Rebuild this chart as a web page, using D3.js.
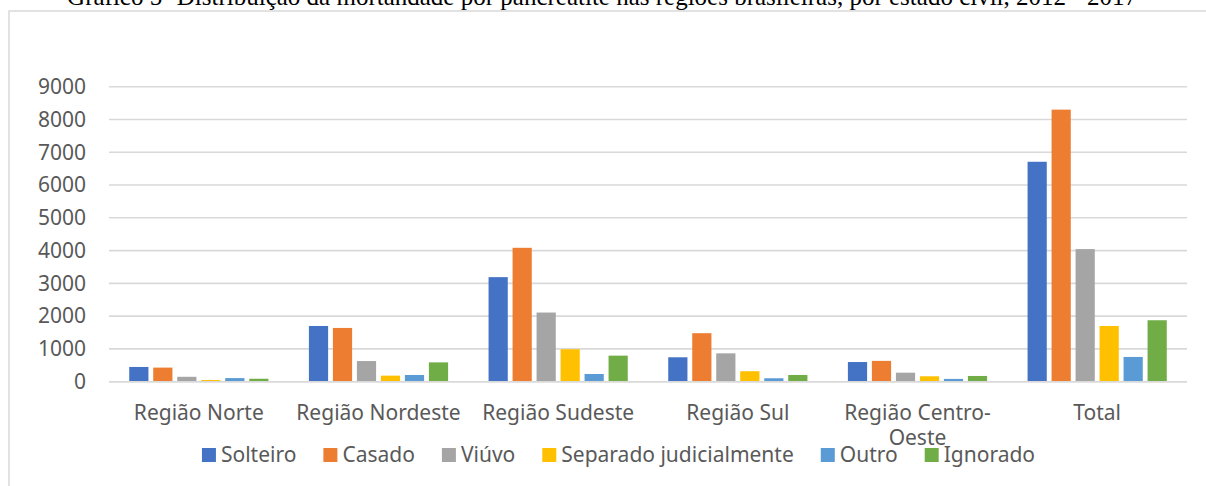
<!DOCTYPE html>
<html>
<head>
<meta charset="utf-8">
<script src="https://cdn.jsdelivr.net/npm/d3@7"></script>
<style>
  html, body { margin: 0; padding: 0; background: #fff; overflow: hidden; }
  svg { display: block; }
  .tick-label, .cat-label, .legend-label { font-family: "Noto Sans", sans-serif; font-size: 21px; fill: #595959; }
  .title { font-family: "Liberation Serif", "Times New Roman", serif; font-size: 25px; fill: #000; }
</style>
</head>
<body>
<svg id="chart" width="1206" height="486"></svg>
<script>
// Chart data
const categories = ["Região Norte", "Região Nordeste", "Região Sudeste", "Região Sul", "Região Centro-Oeste", "Total"];
const series = ["Solteiro", "Casado", "Viúvo", "Separado judicialmente", "Outro", "Ignorado"];
const colors = ["#4472C4", "#ED7D31", "#A5A5A5", "#FFC000", "#5B9BD5", "#70AD47"];

// values per series, one per category
const solteiro = [450, 1700, 3190, 745, 600, 6710];
const casado   = [430, 1640, 4085, 1480, 635, 8300];
const viuvo    = [150, 630, 2110, 865, 275, 4045];
const separado = [50, 185, 990, 320, 165, 1700];
const outro    = [110, 205, 235, 105, 85, 755];
const ignorado = [90, 590, 795, 205, 175, 1875];
const seriesValues = [solteiro, casado, viuvo, separado, outro, ignorado];

const yTicks = [0, 1000, 2000, 3000, 4000, 5000, 6000, 7000, 8000, 9000];
const title = "Gráfico 5- Distribuição da mortandade por pancreatite nas regiões brasileiras, por estado civil, 2012 - 2017";

const svg = d3.select("#chart");

// chart frame (only top/left edges show in the picture)
svg.append("rect")
    .attr("x", 9).attr("y", 11)
    .attr("width", 1240).attr("height", 500)
    .attr("fill", "#fff")
    .attr("stroke", "#d9d9d9").attr("stroke-width", 1.5);

// title, cut off at the top
svg.append("text").attr("class", "title")
    .attr("x", 602).attr("y", 5)
    .attr("text-anchor", "middle")
    .text(title);

const plot = {left: 109, right: 1187, top: 86.7, bottom: 381.7};

const x0 = d3.scaleBand().domain(categories).range([plot.left, plot.right]);
const groupW = 139.2;
const off = (x0.bandwidth() - groupW) / 2;
const x1 = d3.scaleBand().domain(series).range([off, off + groupW]).paddingInner(0.2);
const y = d3.scaleLinear().domain([0, 9000]).range([plot.bottom, plot.top]);

// gridlines
svg.append("g").selectAll("line")
    .data(yTicks)
    .join("line")
    .attr("x1", plot.left).attr("x2", plot.right)
    .attr("y1", d => y(d)).attr("y2", d => y(d))
    .attr("stroke", "#d9d9d9").attr("stroke-width", 1.6);

// y tick labels
svg.append("g").selectAll("text")
    .data(yTicks)
    .join("text")
    .attr("class", "tick-label")
    .attr("x", 86).attr("y", d => y(d))
    .attr("dy", "0.35em")
    .attr("text-anchor", "end")
    .text(d => d);

// bars
const groups = svg.append("g").selectAll("g")
    .data(categories)
    .join("g")
    .attr("transform", d => `translate(${x0(d)},0)`);

groups.selectAll("rect")
    .data((c, ci) => series.map((s, si) => ({s, si, v: seriesValues[si][ci]})))
    .join("rect")
    .attr("x", d => x1(d.s))
    .attr("width", x1.bandwidth())
    .attr("y", d => y(d.v))
    .attr("height", d => y(0) - y(d.v))
    .attr("fill", d => colors[d.si]);

// redraw baseline over the bars
svg.append("line")
    .attr("x1", plot.left).attr("x2", plot.right)
    .attr("y1", y(0)).attr("y2", y(0))
    .attr("stroke", "#d9d9d9").attr("stroke-width", 1.6);

// category labels (Centro-Oeste wraps like in Excel)
svg.append("g").selectAll("text")
    .data(categories)
    .join("text")
    .attr("class", "cat-label")
    .attr("x", d => x0(d) + x0.bandwidth() / 2)
    .attr("y", 420)
    .attr("text-anchor", "middle")
    .each(function(d) {
        const lines = d === "Região Centro-Oeste" ? ["Região Centro-", "Oeste"] : [d];
        d3.select(this).selectAll("tspan")
            .data(lines)
            .join("tspan")
            .attr("x", x0(d) + x0.bandwidth() / 2)
            .attr("dy", (l, i) => i === 0 ? 0 : 25)
            .text(l => l);
    });

// legend
const legend = svg.append("g");
const items = legend.selectAll("g")
    .data(series)
    .join("g");
items.append("rect")
    .attr("width", 14).attr("height", 14)
    .attr("y", 448)
    .attr("fill", (d, i) => colors[i]);
items.append("text")
    .attr("class", "legend-label")
    .attr("x", 19).attr("y", 461.5)
    .text(d => d);

const gap = 27;
let cx = 0;
items.each(function() {
    const w = 19 + this.querySelector("text").getComputedTextLength();
    d3.select(this).attr("transform", `translate(${cx},0)`);
    cx += w + gap;
});
const legendW = cx - gap;
legend.attr("transform", `translate(${618.5 - legendW / 2},0)`);
</script>
</body>
</html>
